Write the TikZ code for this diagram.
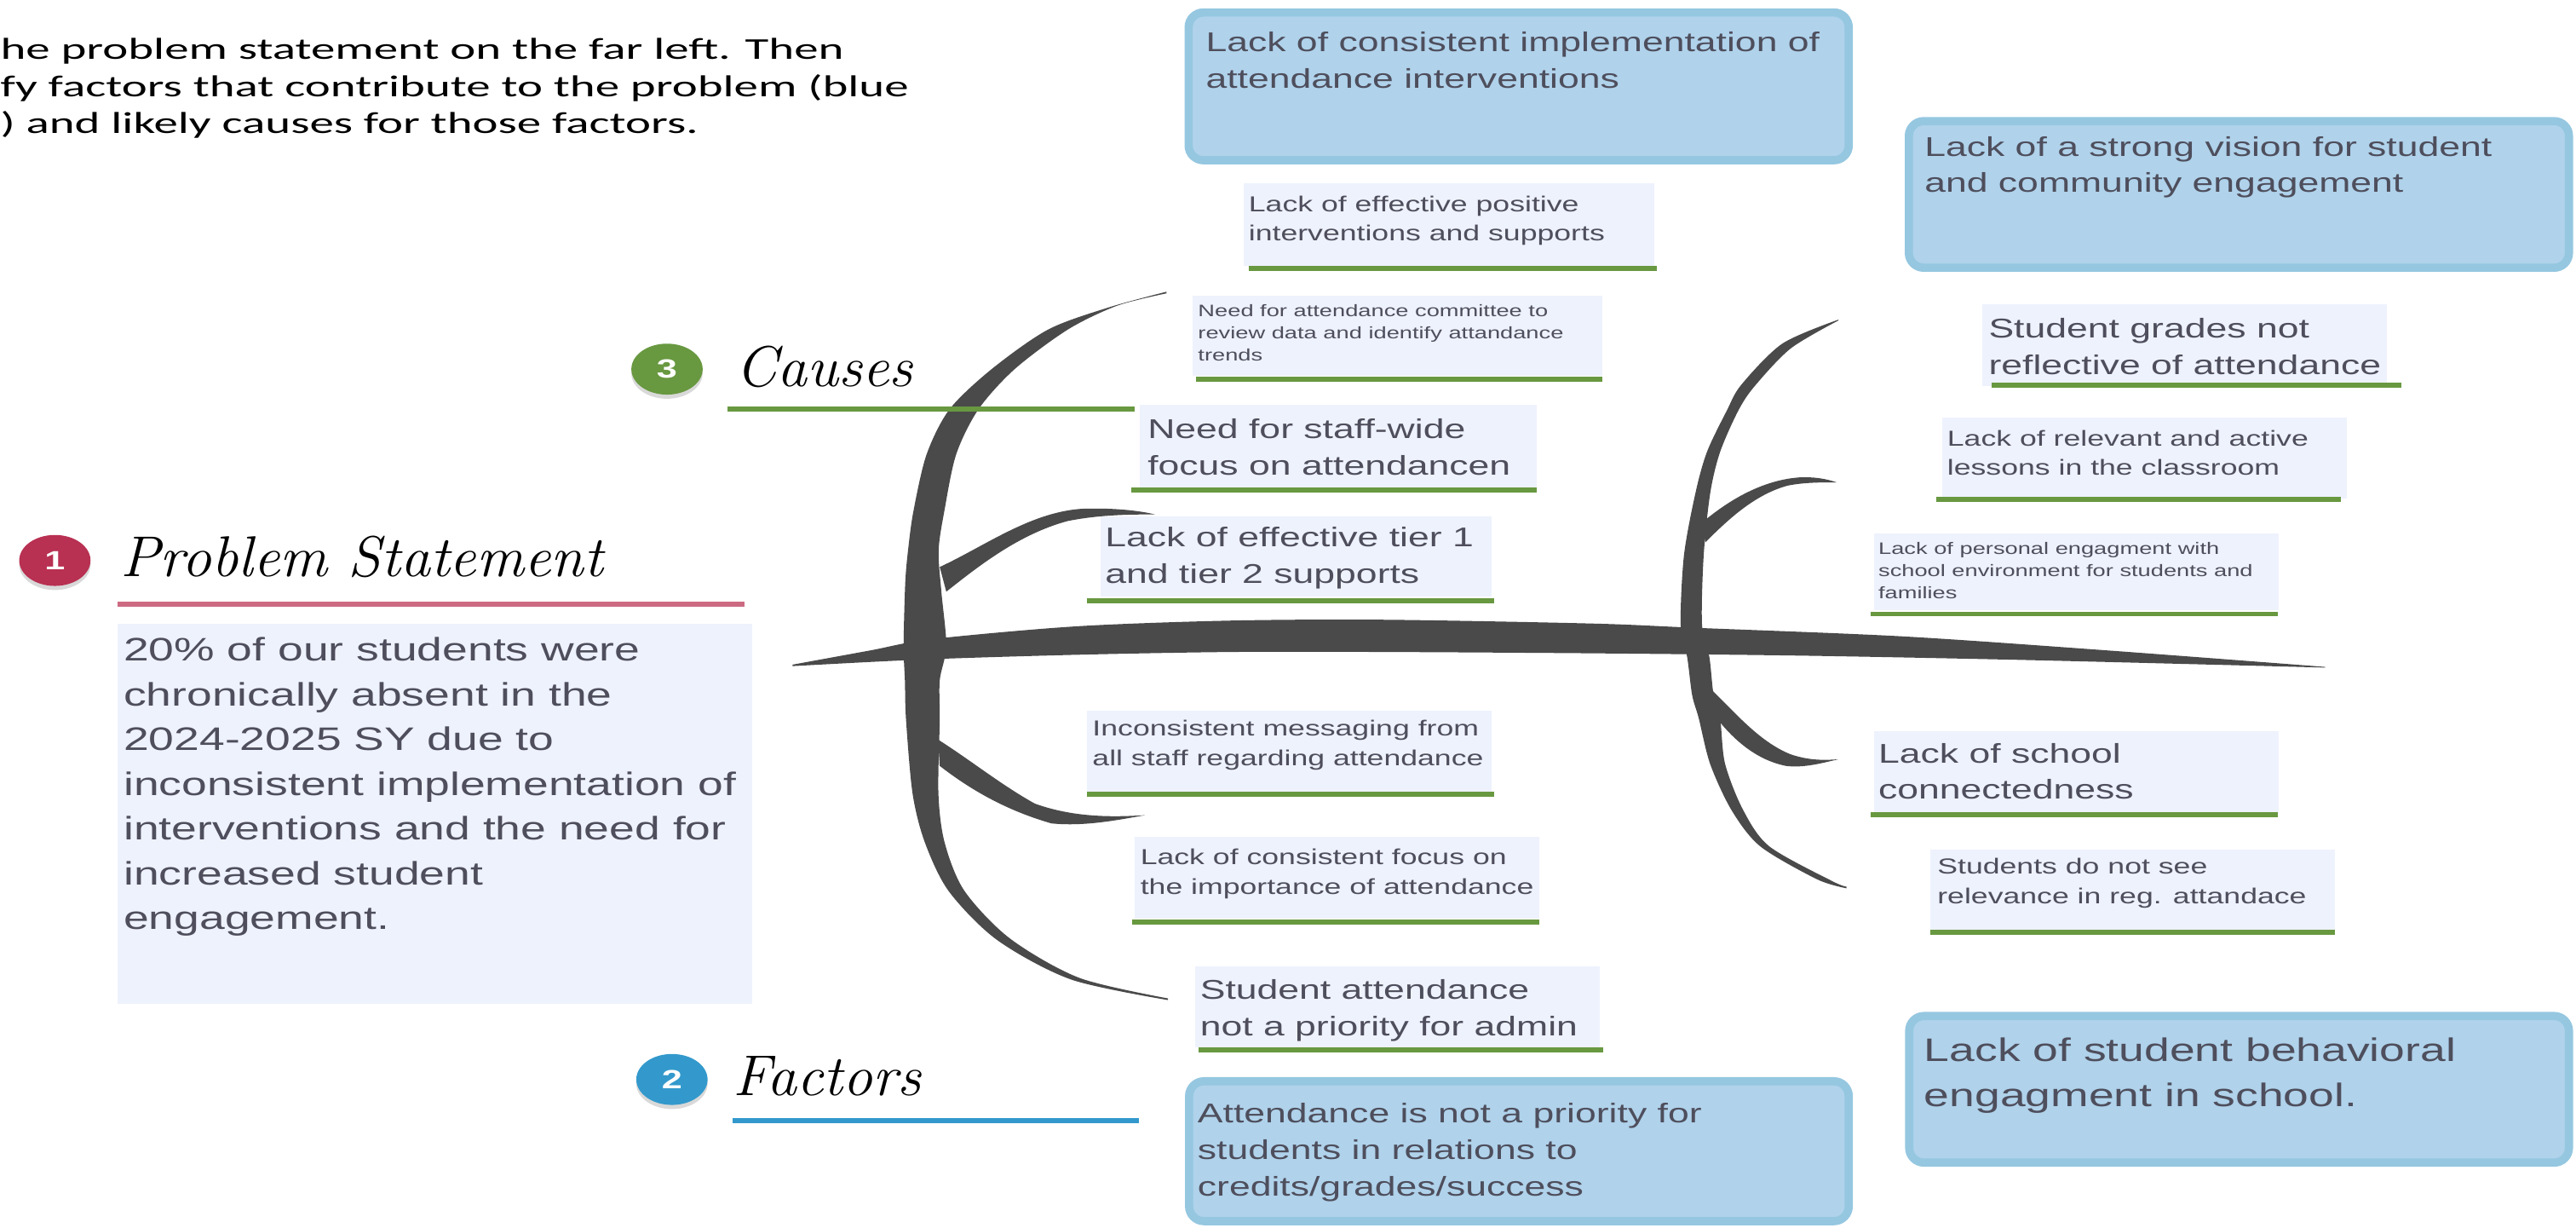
\documentclass[tikz,border=0pt]{standalone}
\usepackage{graphicx}
\usepackage{fontspec}
\newfontfamily\arialfam{Liberation Sans}
\newfontfamily\calfam{Carlito}
\usetikzlibrary{shadows}

\definecolor{bonegray}{RGB}{74,74,74}
\definecolor{causegreen}{RGB}{104,152,64}
\definecolor{factorblue}{RGB}{51,153,204}
\definecolor{probred}{RGB}{184,48,82}
\definecolor{probpink}{RGB}{204,106,130}
\definecolor{cellfill}{RGB}{238,242,253}
\definecolor{factorfill}{RGB}{176,210,235}
\definecolor{factorrim}{RGB}{149,199,224}
\definecolor{boxtext}{RGB}{78,78,92}

\newcommand{\hstretch}[2]{\scalebox{#1}[1]{#2}}

\begin{document}
\begin{tikzpicture}[x=0.7143pt, y=-1pt, xscale=1.4, transform shape,
  fishbone/.style={fill=bonegray},
  numdot/.style={circle, minimum size=31pt, inner sep=0pt, text=white,
    font=\arialfam\bfseries\fontsize{16}{16}\selectfont,
    drop shadow={shadow xshift=0pt, shadow yshift=-2.5pt, opacity=0.3}},
  headtxt/.style={anchor=base west, inner sep=0pt, font=\itshape\fontsize{35}{40}\selectfont},
  headrule/.style={line width=3pt},
  txt/.style={anchor=north west, inner sep=0pt, align=left, text=boxtext},
  txtXL/.style={txt, font=\arialfam\fontsize{19.8}{27.2}\selectfont},
  txtL/.style={txt, font=\arialfam\fontsize{16.5}{22.2}\selectfont},
  txtM/.style={txt, font=\arialfam\fontsize{13.2}{18}\selectfont},
  txtS/.style={txt, font=\arialfam\fontsize{10.1}{13.3}\selectfont},
  cellbox/.style={fill=cellfill},
  cellrule/.style={draw=causegreen, line width=3pt},
  factorbox/.style={fill=factorfill, draw=factorrim, line width=5pt, rounded corners=9pt}]
\useasboundingbox (0,0) rectangle (1568,747);

% instructions (cut at the left edge)
\node[anchor=north west, inner sep=0pt, font=\calfam\fontsize{18.4}{22.5}\selectfont] (intro) at (0,20.2)
  {\hstretch{1.145}{\begin{tabular}{@{}l@{}}he problem statement on the far left. Then\\
   fy factors that contribute to the problem (blue\\
   ) and likely causes for those factors.\end{tabular}}};

% spine
\fill[fishbone] plot[smooth] coordinates {(482.4,404.4) (529.5,395.8) (567.2,388.9) (655.1,381.1)
  (749.4,377.6) (843.6,377.1) (969.3,379.4) (1032.1,382) (1157.8,387.2) (1283.4,395.8) (1415.4,405.8)}
  -- plot[smooth] coordinates {(1415.4,406.2) (1346.3,404.4) (1220.6,401.3) (1094.9,398.9) (969.3,397.5)
  (843.6,396.7) (749.4,396.7) (655.1,398.4) (560.9,401.3) (482.4,405.3)} -- cycle;

% left bone
\fill[fishbone] plot[smooth] coordinates {(710,177.5) (675,187) (638,200.5) (603.6,224.6) (578,249)
  (564,276.5) (556,311) (552.7,335) (551,355) (550,393) (550.8,414) (551.5,438) (555.5,483)
  (563,512.7) (577.6,542.4) (607,572) (652,596) (711,608.5)}
  -- plot[smooth] coordinates {(711,607.5) (657,595) (614.7,571) (587,542) (575,512.7) (571.2,483)
  (572,438) (572,414) (576,393) (573,360) (571.3,335) (574.8,311) (582,276.5) (595.6,249)
  (617.6,224.6) (650,200.5) (680,186) (710,178.5)} -- cycle;
\fill[fishbone] (572,345) .. controls (600,332) and (628,311) .. (660,309.5)
  .. controls (680,309) and (695,311) .. (703,313)
  .. controls (690,313) and (670,313) .. (650,317)
  .. controls (620,325) and (595,345) .. (576,360) -- cycle;
\fill[fishbone] (571,450) .. controls (590,462) and (610,478) .. (630,489)
  .. controls (655,498) and (680,497) .. (697,496)
  .. controls (680,499) and (660,503) .. (640,501)
  .. controls (612,493) and (590,480) .. (572,466) -- cycle;

% right bone
\fill[fishbone] plot[smooth] coordinates {(1119,194.5) (1085,209) (1060,234) (1051,250) (1039,275)
  (1032,300) (1025,338) (1023,380) (1027,400) (1030,423) (1034,437) (1041,465) (1054,493)
  (1071.5,515) (1106,535) (1124,540.5)}
  -- plot[smooth] coordinates {(1124,539.5) (1115,536) (1077,515) (1061,492.8) (1050,464.6)
  (1047,436.6) (1043,422.6) (1040.5,400) (1036,380) (1037,338) (1041,300) (1047,275) (1058,250)
  (1068,235) (1090,212) (1119,195)} -- cycle;
\fill[fishbone] (1036,318) .. controls (1055,302) and (1075,292) .. (1095,290.5)
  .. controls (1105,290) and (1112,291.5) .. (1118,293.5)
  .. controls (1108,293.5) and (1098,293.5) .. (1088,295.5)
  .. controls (1068,301) and (1052,316) .. (1038,330) -- cycle;
\fill[fishbone] (1040,418) .. controls (1055,432) and (1070,451) .. (1090,459)
  .. controls (1102,463) and (1111,462.5) .. (1119,462)
  .. controls (1110,464) and (1098,467.5) .. (1087,466)
  .. controls (1067,462) and (1052,447) .. (1042,433) -- cycle;

% 1 problem statement
\node[numdot, fill=probred] (psnum) at (33.4,341) {1};
\node[headtxt] (pstitle) at (73,351) {\hstretch{0.74}{Problem Statement}};
\draw[headrule, probpink] (71.6,367.5) -- (453,367.5);
\fill[cellbox] (71.7,379.5) rectangle (458,611);
\node[txtXL] (pstext) at (75,387.8) {20\% of our students were\\chronically absent in the\\2024-2025 SY due to\\
  inconsistent implementation of\\interventions and the need for\\increased student\\engagement.};

% 3 causes
\node[numdot, fill=causegreen] (causenum) at (406,224.6) {3};
\node[headtxt] (causetitle) at (447.5,235.4) {\hstretch{0.74}{Causes}};
\draw[headrule, causegreen] (443,249) -- (690.6,249);

% 2 factors
\node[numdot, fill=factorblue] (factnum) at (409,656.8) {2};
\node[headtxt] (facttitle) at (446,666.8) {\hstretch{0.74}{Factors}};
\draw[headrule, factorblue] (446,682) -- (693.5,682);

% factor boxes
\path[factorbox] (723.5,7.6) rectangle (1125.3,97.5);
\node[txtL] (fA) at (733.7,19.1) {Lack of consistent implementation of\\attendance interventions};
\path[factorbox] (1161.9,73.7) rectangle (1563.7,162.9);
\node[txtL] (fB) at (1171.2,82.8) {Lack of a strong vision for student\\and community engagement};
\path[factorbox] (1162.1,618.2) rectangle (1563.7,707.4);
\node[txtXL] (fC) at (1171,631.5) {Lack of student behavioral\\engagment in school.};
\path[factorbox] (723.8,657.9) rectangle (1125.3,743);
\node[txtL] (fD) at (728.7,671) {Attendance is not a priority for\\students in relations to\\credits/grades/success};

% causes, left side
\fill[cellbox] (757,111.7) rectangle (1006.9,162);
\draw[cellrule] (760,163.4) -- (1008.3,163.4);
\node[txtM] (c1) at (759.8,118.9) {Lack of effective positive\\interventions and supports};

\fill[cellbox] (725.9,180) rectangle (975.4,228.6);
\draw[cellrule] (728,230.6) -- (975.4,230.6);
\node[txtS] (c2) at (729,185.3) {Need for attendance committee to\\review data and identify attandance\\trends};

\fill[cellbox] (693.8,246.2) rectangle (935.5,297);
\draw[cellrule] (688.7,298.3) -- (935.5,298.3);
\node[txtL] (c3) at (698.3,254.5) {Need for staff-wide\\focus on attendancen};

\fill[cellbox] (670,314.2) rectangle (907.7,363);
\draw[cellrule] (661.6,365.6) -- (909.3,365.6);
\node[txtL] (c4) at (672.4,320.7) {Lack of effective tier 1\\and tier 2 supports};

\fill[cellbox] (661.8,432.4) rectangle (907.9,482.2);
\draw[cellrule] (661.8,483.3) -- (909.6,483.3);
\node[txtM] (c5) at (664.7,438.1) {Inconsistent messaging from\\all staff regarding attendance};

\fill[cellbox] (690.9,509.2) rectangle (937,559);
\draw[cellrule] (689,561) -- (937,561);
\node[txtM] (c6) at (693.9,516.4) {Lack of consistent focus on\\the importance of attendance};

\fill[cellbox] (727.3,588.2) rectangle (973.7,637.4);
\draw[cellrule] (729.8,638.8) -- (975.8,638.8);
\node[txtL] (c7) at (730.2,595.7) {Student attendance\\not a priority for admin};

% causes, right side
\fill[cellbox] (1206.7,185.1) rectangle (1453,234.9);
\draw[cellrule] (1212.4,234.5) -- (1461.8,234.5);
\node[txtL] (r1) at (1210.2,193.5) {Student grades not\\reflective of attendance};

\fill[cellbox] (1182.2,253.9) rectangle (1428.4,303.3);
\draw[cellrule] (1178.4,304) -- (1424.9,304);
\node[txtM] (r2) at (1185,261.5) {Lack of relevant and active\\lessons in the classroom};

\fill[cellbox] (1140.8,324.4) rectangle (1387,371.5);
\draw[cellrule] (1138.8,373.6) -- (1386.5,373.6);
\node[txtS] (r3) at (1143.1,329.9) {Lack of personal engagment with\\school environment for students and\\families};

\fill[cellbox] (1140.8,444.9) rectangle (1387,495);
\draw[cellrule] (1138.8,495.6) -- (1386.5,495.6);
\node[txtL] (r4) at (1143.1,452) {Lack of school\\connectedness};

\fill[cellbox] (1175,517.2) rectangle (1421.2,566.5);
\draw[cellrule] (1175,567.4) -- (1421.2,567.4);
\node[txtM] (r5) at (1179,522.2) {Students do not see\\relevance in reg. attandace};
\end{tikzpicture}
\end{document}
